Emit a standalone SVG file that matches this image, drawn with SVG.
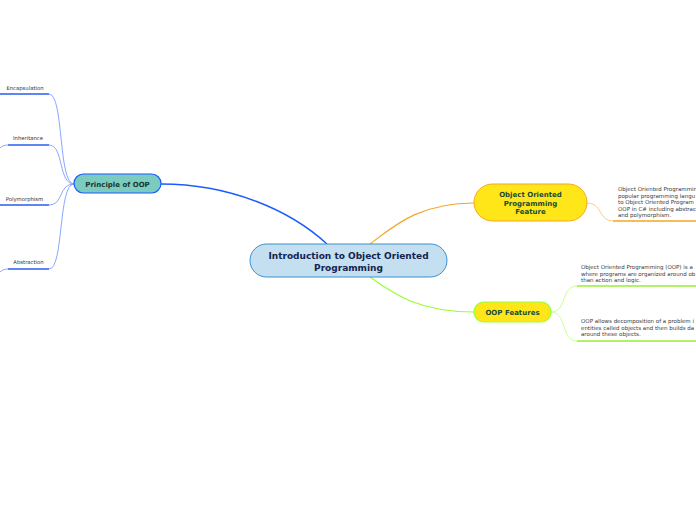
<svg xmlns="http://www.w3.org/2000/svg" width="696" height="520" viewBox="0 0 696 520">
<style>
.t{font-family:Verdana,"DejaVu Sans",sans-serif;font-weight:bold;text-anchor:middle}
.s{font-family:Verdana,"DejaVu Sans",sans-serif;font-size:5.5px;fill:#3a3a3a}
.lb{font-family:Verdana,"DejaVu Sans",sans-serif;font-size:5.3px;fill:#333;text-anchor:middle}
.thinb{fill:none;stroke:#7c9cff;stroke-width:0.9}
.ulb{stroke:#2a5cf0;stroke-width:1.6}
</style>
<rect width="696" height="520" fill="#fff"/>
<g id="connectors">
<path d="M327,244 C290,210 230,184 161,184" fill="none" stroke="#1a5cff" stroke-width="1.5"/>
<path d="M370,244 C395,225 420,203 474,203" fill="none" stroke="#f5a623" stroke-width="1.2"/>
<path d="M370,277 C395,295 420,312 474,312" fill="none" stroke="#99ff33" stroke-width="1.2"/>
<path d="M74,184 C58,184 64,94 49,94" class="thinb"/>
<path d="M74,184 C58,184 64,145 49,145" class="thinb"/>
<path d="M74,184 C58,184 64,205 49,205" class="thinb"/>
<path d="M74,184 C58,184 64,269 49,269" class="thinb"/>
<path d="M8,145 C4,145 2,146 0,148" class="thinb"/>
<path d="M8,269 C4,269 2,270 0,272" class="thinb"/>
<line x1="0" y1="94" x2="49" y2="94" class="ulb"/>
<line x1="8" y1="145" x2="49" y2="145" class="ulb"/>
<line x1="0" y1="205" x2="49" y2="205" class="ulb"/>
<line x1="8" y1="269" x2="49" y2="269" class="ulb"/>
<path d="M587,203 C603,203 598,221 613,221" fill="none" stroke="#fdc77a" stroke-width="0.9"/>
<line x1="613" y1="221" x2="696" y2="221" stroke="#f5a623" stroke-width="1.6"/>
<path d="M551,312 C567,312 561,286 577,286" fill="none" stroke="#c4ff80" stroke-width="0.9"/>
<path d="M551,312 C567,312 561,341 577,341" fill="none" stroke="#c4ff80" stroke-width="0.9"/>
<line x1="577" y1="286" x2="696" y2="286" stroke="#99ee33" stroke-width="1.6"/>
<line x1="577" y1="341" x2="696" y2="341" stroke="#99ee33" stroke-width="1.6"/>
</g>
<g id="center">
<rect x="250" y="244" width="197" height="33" rx="16.5" fill="#c3dff0" stroke="#3a8fd0" stroke-width="1"/>
<text x="348.5" y="259" class="t" font-size="9" fill="#14234f">Introduction to Object Oriented</text>
<text x="348.5" y="270.5" class="t" font-size="9" fill="#14234f">Programming</text>
</g>
<g id="principle">
<rect x="74" y="174" width="87" height="19" rx="9.5" fill="#7ccbbf" stroke="#1a5cff" stroke-width="1.2"/>
<text x="117.5" y="186.5" class="t" font-size="7" fill="#17352e">Principle of OOP</text>
</g>
<g id="encapsulation"><text x="25" y="90" class="lb">Encapsulation</text></g>
<g id="inheritance"><text x="28" y="140" class="lb">Inheritance</text></g>
<g id="polymorphism"><text x="24.5" y="201" class="lb">Polymorphism</text></g>
<g id="abstraction"><text x="28.5" y="264" class="lb">Abstraction</text></g>
<g id="oop-feature">
<rect x="474" y="184" width="113" height="37" rx="18.5" fill="#ffe619" stroke="#f5a623" stroke-width="1"/>
<text x="530.5" y="197" class="t" font-size="7" fill="#1a4a3a">Object Oriented</text>
<text x="530.5" y="205.5" class="t" font-size="7" fill="#1a4a3a">Programming</text>
<text x="530.5" y="214" class="t" font-size="7" fill="#1a4a3a">Feature</text>
</g>
<g id="feature-text">
<text x="618" y="191" class="s">Object Oriented Programmin</text>
<text x="618" y="197.5" class="s">popular programming langu</text>
<text x="618" y="204" class="s">to Object Oriented Program</text>
<text x="618" y="210.5" class="s">OOP in C# including abstrac</text>
<text x="618" y="217" class="s">and polymorphism.</text>
</g>
<g id="oop-features">
<rect x="474" y="302" width="77" height="20" rx="10" fill="#ffe619" stroke="#99ff33" stroke-width="1.2"/>
<text x="512.5" y="314.5" class="t" font-size="7" fill="#1a4a3a">OOP Features</text>
</g>
<g id="def-text">
<text x="581" y="269" class="s">Object Oriented Programming (OOP) is a</text>
<text x="581" y="275.5" class="s">where programs are organized around ob</text>
<text x="581" y="282" class="s">than action and logic.</text>
</g>
<g id="decomp-text">
<text x="581" y="323" class="s">OOP allows decomposition of a problem i</text>
<text x="581" y="329.5" class="s">entities called objects and then builds da</text>
<text x="581" y="336" class="s">around these objects.</text>
</g>
</svg>
